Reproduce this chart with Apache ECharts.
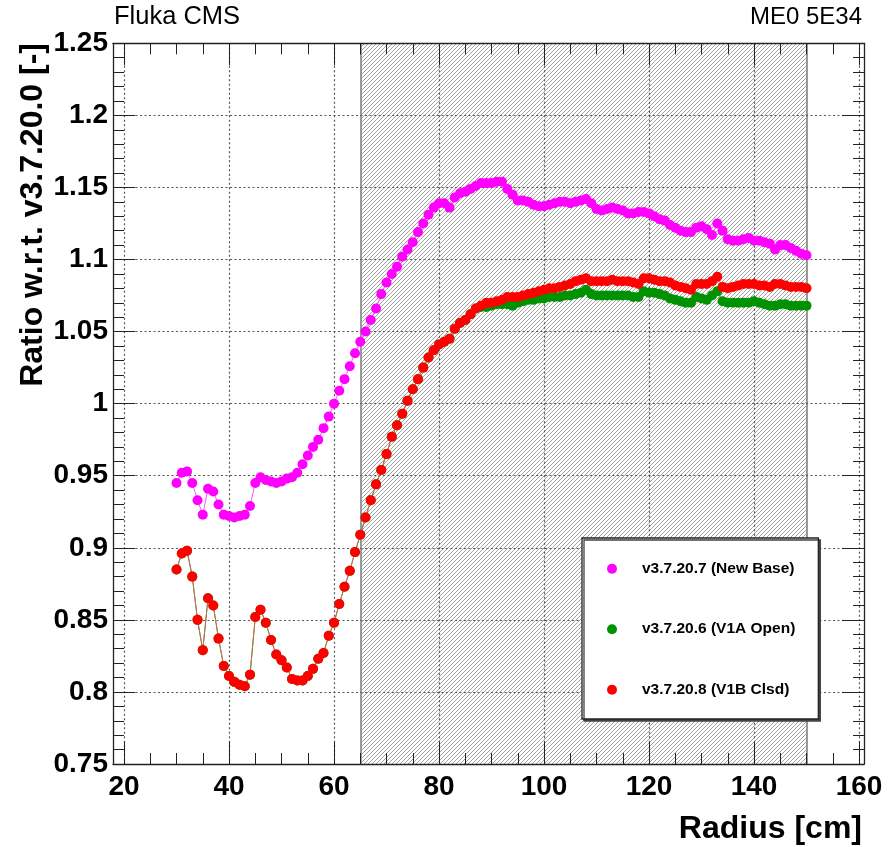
<!DOCTYPE html>
<html>
<head>
<meta charset="utf-8">
<title>ME0 5E34 ratio</title>
<script src="https://cdn.jsdelivr.net/npm/echarts@6/dist/echarts.min.js"></script>
<style>
  html, body { margin: 0; padding: 0; background: #fff; }
  #chart { width: 890px; height: 847px; }
</style>
</head>
<body>
<div id="chart"></div>
<script>
// ratio w.r.t. v3.7.20.0, one point per cm from 30 to 150 cm
const newBase = [
  0.945, 0.952, 0.953, 0.945, 0.933, 0.923, 0.941, 0.939, 0.930, 0.923,
  0.922, 0.921, 0.922, 0.923, 0.929, 0.945, 0.949, 0.947, 0.946, 0.945,
  0.946, 0.948, 0.949, 0.952, 0.958, 0.964, 0.970, 0.975, 0.983, 0.991,
  1.000, 1.009, 1.017, 1.026, 1.035, 1.043, 1.050, 1.058, 1.066, 1.076,
  1.084, 1.090, 1.095, 1.102, 1.107, 1.112, 1.119, 1.125, 1.131, 1.136,
  1.139, 1.139, 1.136, 1.143, 1.146, 1.147, 1.149, 1.151, 1.153, 1.153,
  1.153, 1.154, 1.154, 1.149, 1.145, 1.141, 1.141, 1.140, 1.138, 1.137,
  1.137, 1.138, 1.139, 1.140, 1.140, 1.139, 1.140, 1.141, 1.142, 1.139,
  1.135, 1.134, 1.135, 1.136, 1.135, 1.134, 1.132, 1.132, 1.133, 1.133,
  1.132, 1.130, 1.128, 1.127, 1.124, 1.122, 1.120, 1.119, 1.119, 1.122,
  1.123, 1.121, 1.117, 1.125, 1.120, 1.114, 1.113, 1.113, 1.114, 1.115,
  1.113, 1.113, 1.112, 1.111, 1.107, 1.110, 1.110, 1.108, 1.106, 1.104,
  1.103
];
const v1aOpen = [
  0.885, 0.896, 0.898, 0.880, 0.850, 0.829, 0.865, 0.860, 0.837, 0.818,
  0.811, 0.807, 0.805, 0.804, 0.812, 0.852, 0.857, 0.848, 0.836, 0.826,
  0.822, 0.817, 0.809, 0.808, 0.808, 0.811, 0.816, 0.823, 0.827, 0.839,
  0.848, 0.861, 0.873, 0.884, 0.897, 0.909, 0.921, 0.933, 0.944, 0.954,
  0.965, 0.977, 0.985, 0.993, 1.002, 1.010, 1.017, 1.025, 1.032, 1.037,
  1.041, 1.043, 1.045, 1.052, 1.056, 1.058, 1.062, 1.066, 1.067, 1.067,
  1.068, 1.069, 1.069, 1.069, 1.068, 1.070, 1.071, 1.072, 1.072, 1.073,
  1.073, 1.074, 1.074, 1.074, 1.075, 1.075, 1.076, 1.077, 1.079, 1.076,
  1.075, 1.075, 1.075, 1.075, 1.075, 1.075, 1.075, 1.074, 1.074, 1.078,
  1.077, 1.077, 1.076, 1.075, 1.073, 1.072, 1.071, 1.070, 1.070, 1.074,
  1.073, 1.072, 1.075, 1.078, 1.071, 1.070, 1.070, 1.070, 1.070, 1.070,
  1.071, 1.070, 1.069, 1.068, 1.068, 1.069, 1.069, 1.068, 1.068, 1.068,
  1.068
];
const v1bClsd = [
  0.885, 0.896, 0.898, 0.880, 0.850, 0.829, 0.865, 0.860, 0.837, 0.818,
  0.811, 0.807, 0.805, 0.804, 0.812, 0.852, 0.857, 0.848, 0.836, 0.826,
  0.822, 0.817, 0.809, 0.808, 0.808, 0.811, 0.816, 0.823, 0.827, 0.839,
  0.848, 0.861, 0.873, 0.884, 0.897, 0.909, 0.921, 0.933, 0.944, 0.954,
  0.965, 0.977, 0.985, 0.993, 1.002, 1.010, 1.017, 1.025, 1.032, 1.037,
  1.041, 1.043, 1.045, 1.052, 1.056, 1.058, 1.062, 1.066, 1.068, 1.070,
  1.070, 1.071, 1.072, 1.074, 1.074, 1.074, 1.075, 1.076, 1.077, 1.078,
  1.079, 1.080, 1.080, 1.081, 1.082, 1.083, 1.085, 1.086, 1.087, 1.085,
  1.085, 1.085, 1.085, 1.086, 1.085, 1.085, 1.085, 1.084, 1.083, 1.087,
  1.087, 1.086, 1.085, 1.085, 1.084, 1.082, 1.081, 1.080, 1.079, 1.083,
  1.083, 1.083, 1.085, 1.088, 1.081, 1.080, 1.081, 1.082, 1.083, 1.083,
  1.083, 1.082, 1.082, 1.081, 1.083, 1.083, 1.082, 1.081, 1.081, 1.081,
  1.080
];
const radius = newBase.map((_, i) => 30 + i);

const seriesNames = ['v3.7.20.7 (New Base)', 'v3.7.20.6 (V1A Open)', 'v3.7.20.8 (V1B Clsd)'];
const xMajor = [20, 40, 60, 80, 100, 120, 140, 160];
const xMinor = [];
for (let v = 20; v <= 160; v += 5) xMinor.push(v);
const shaded = [65, 150];

const FONT = '"Liberation Sans", Arial, Helvetica, sans-serif';

function hatchCanvas() {
  const c = document.createElement('canvas');
  c.width = 4;
  c.height = 4;
  const g = c.getContext('2d');
  g.strokeStyle = '#9a9a9a';
  g.lineWidth = 0.9;
  g.beginPath();
  g.moveTo(0, 4); g.lineTo(4, 0);
  g.moveTo(-1, 1); g.lineTo(1, -1);
  g.moveTo(3, 5); g.lineTo(5, 3);
  g.stroke();
  return c;
}

const pairs = arr => arr.map((v, i) => [radius[i], v]);

const dotted = { color: '#555', width: 1.2, type: [2, 2.5] };
const xBase = { type: 'value', min: 17.9, max: 160.95, z: 1.5 };
const yBase = { type: 'value', min: 0.75, max: 1.25, interval: 0.05, z: 1.5 };
const tickLine = { color: '#222' };

const chart = echarts.init(document.getElementById('chart'), null, { renderer: 'canvas' });
chart.setOption({
  animation: false,
  backgroundColor: '#fff',
  grid: { left: 113, right: 26, top: 43.3, bottom: 83 },
  xAxis: [
    Object.assign({}, xBase, {
      position: 'bottom',
      axisLine: { lineStyle: { color: '#222', width: 1.3 } },
      axisTick: { inside: true, length: 22, customValues: xMajor, lineStyle: tickLine },
      axisLabel: { customValues: xMajor, margin: 9, color: '#000', fontSize: 28, fontWeight: 'bold', fontFamily: FONT, lineHeight: 28 },
      splitLine: { show: true, lineStyle: dotted }
    }),
    Object.assign({}, xBase, {
      position: 'bottom',
      axisLine: { show: false },
      axisTick: { inside: true, length: 11, customValues: xMinor, lineStyle: tickLine },
      axisLabel: { show: false },
      splitLine: { show: false }
    }),
    Object.assign({}, xBase, {
      position: 'top',
      axisLine: { lineStyle: { color: '#222', width: 1.3 } },
      axisTick: { inside: true, length: 22, customValues: xMajor, lineStyle: tickLine },
      axisLabel: { show: false },
      splitLine: { show: false }
    }),
    Object.assign({}, xBase, {
      position: 'top',
      axisLine: { show: false },
      axisTick: { inside: true, length: 11, customValues: xMinor, lineStyle: tickLine },
      axisLabel: { show: false },
      splitLine: { show: false }
    })
  ],
  yAxis: [
    Object.assign({}, yBase, {
      position: 'left',
      axisLine: { lineStyle: { color: '#222', width: 1.3 } },
      axisTick: { inside: true, length: 22, lineStyle: tickLine },
      minorTick: { show: true, splitNumber: 5, length: 11, lineStyle: tickLine },
      axisLabel: { margin: 5, color: '#000', fontSize: 28, fontWeight: 'bold', fontFamily: FONT },
      splitLine: { show: true, lineStyle: dotted }
    }),
    Object.assign({}, yBase, {
      position: 'right',
      axisLine: { lineStyle: { color: '#222', width: 1.3 } },
      axisTick: { inside: true, length: 22, lineStyle: tickLine },
      minorTick: { show: true, splitNumber: 5, length: 11, lineStyle: tickLine },
      axisLabel: { show: false },
      splitLine: { show: false }
    })
  ],
  legend: {
    data: seriesNames,
    orient: 'vertical',
    left: 582,
    top: 538,
    icon: 'circle',
    itemWidth: 50,
    itemHeight: 10,
    itemGap: 44.5,
    padding: [22.7, 23, 21.3, 25],
    backgroundColor: '#fff',
    borderColor: '#222',
    borderWidth: 1.3,
    shadowColor: '#444',
    shadowOffsetX: 2,
    shadowOffsetY: 2,
    shadowBlur: 0,
    selectedMode: false,
    textStyle: { color: '#000', fontSize: 15.5, fontWeight: 'bold', fontFamily: FONT, lineHeight: 16 }
  },
  graphic: [
    {
      type: 'text', left: 114, top: 4,
      style: { text: 'Fluka CMS', fontSize: 25.5, fontFamily: FONT, fill: '#000' }
    },
    {
      type: 'text', right: 28, top: 5,
      style: { text: 'ME0 5E34', fontSize: 24, fontFamily: FONT, fill: '#000' }
    },
    {
      type: 'text', x: 33, y: 43, rotation: Math.PI / 2,
      style: {
        text: 'Ratio w.r.t. v3.7.20.0 [-]', fontSize: 32, fontWeight: 'bold', fontFamily: FONT,
        fill: '#000', align: 'right', verticalAlign: 'middle'
      }
    },
    {
      type: 'text', x: 862, y: 829,
      style: {
        text: 'Radius [cm]', fontSize: 32, fontWeight: 'bold', fontFamily: FONT,
        fill: '#000', align: 'right', verticalAlign: 'middle'
      }
    }
  ],
  series: [
    {
      name: seriesNames[0],
      type: 'line',
      data: pairs(newBase),
      symbol: 'circle',
      symbolSize: 10,
      itemStyle: { color: '#ff00ff' },
      lineStyle: { color: '#ff55ff', width: 1 },
      emphasis: { disabled: true },
      markArea: {
        silent: true,
        z: 1,
        itemStyle: { color: { image: hatchCanvas(), repeat: 'repeat' } },
        data: [[{ xAxis: shaded[0] }, { xAxis: shaded[1] }]]
      },
      markLine: {
        silent: true,
        z: 1.2,
        symbol: 'none',
        label: { show: false },
        lineStyle: { color: '#999', width: 2, type: 'solid' },
        data: [{ xAxis: shaded[0] }, { xAxis: shaded[1] }]
      }
    },
    {
      name: seriesNames[1],
      type: 'line',
      data: pairs(v1aOpen),
      symbol: 'circle',
      symbolSize: 10,
      itemStyle: { color: '#009200' },
      lineStyle: { color: '#3a9a3a', width: 1 },
      emphasis: { disabled: true }
    },
    {
      name: seriesNames[2],
      type: 'line',
      data: pairs(v1bClsd),
      symbol: 'circle',
      symbolSize: 10,
      itemStyle: { color: '#ff0000' },
      lineStyle: { color: '#cc6a50', width: 1 },
      emphasis: { disabled: true }
    }
  ]
});
</script>
</body>
</html>
